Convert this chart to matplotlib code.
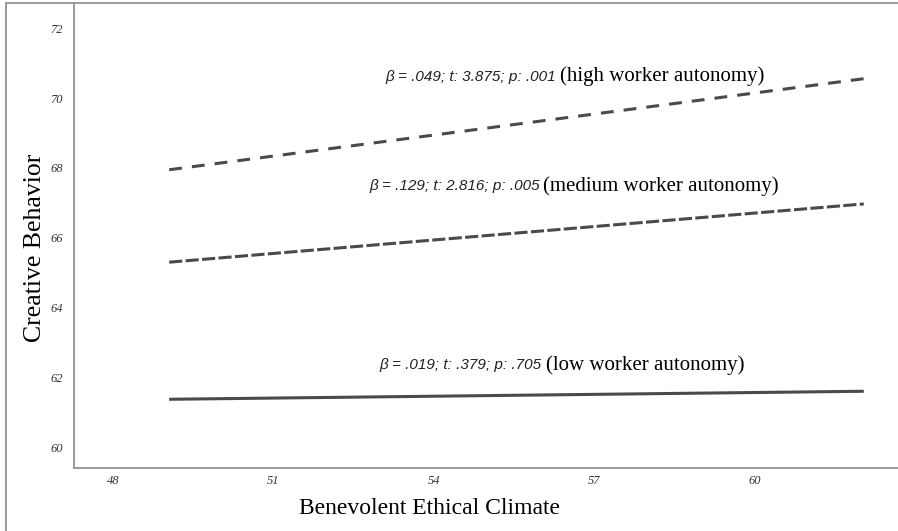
import matplotlib.pyplot as plt
from matplotlib.lines import Line2D

plt.rcParams['font.family'] = ['Liberation Serif', 'DejaVu Serif']

# simple slopes of creative behavior at three levels of worker autonomy
climate = [49.05, 62.04]
high = [67.95, 70.56]
medium = [65.30, 66.97]
low = [61.37, 61.60]

x_ticks = [48, 51, 54, 57, 60]
y_ticks = [60, 62, 64, 66, 68, 70, 72]

stats_high = "\u03b2 = .049; t: 3.875; p: .001"
stats_medium = "\u03b2 = .129; t: 2.816; p: .005"
stats_low = "\u03b2 = .019; t: .379; p: .705"

line_color = '#4a4a4a'
frame_color = '#9a9a9a'

fig = plt.figure(figsize=(8.98, 5.31), dpi=100)
ax = fig.add_axes([74 / 898, 1 - 468 / 531, 1 - 74 / 898, 465 / 531])

ax.plot(climate, high, color=line_color, lw=2.2, dashes=(4.2, 3.3))
ax.plot(climate, medium, color=line_color, lw=2.2, dashes=(4.3, 1.1))
ax.plot(climate, low, color=line_color, lw=2.2, solid_capstyle='butt')

ax.set_xlim(47.27, 62.68)
ax.set_ylim(59.40, 72.73)
ax.set_xticks(x_ticks)
ax.set_yticks(y_ticks)
ax.tick_params(length=0, labelsize=9, labelcolor='#333333')
ax.tick_params(axis='x', pad=5)
ax.tick_params(axis='y', pad=8)
for lab in ax.get_xticklabels() + ax.get_yticklabels():
    lab.set_fontstyle('italic')

for side in ['top', 'right']:
    ax.spines[side].set_visible(False)
for side in ['left', 'bottom']:
    ax.spines[side].set_color(frame_color)
    ax.spines[side].set_linewidth(1.4)

ax.set_xlabel("Benevolent Ethical Climate", fontsize=17, labelpad=8)
ax.xaxis.set_label_coords(0.432, -0.065)
ax.set_ylabel("Creative Behavior", fontsize=18.5)
ax.yaxis.set_label_coords(-0.034, 0.473)


def label(x, y, stats, name):
    ax.text(x, y, stats, fontsize=11, style='italic', ha='right', va='center',
            family=['Liberation Sans', 'DejaVu Sans'], color='#222222')
    ax.text(x + 0.07, y, name, fontsize=15, ha='left', va='center')


label(56.28, 70.62, stats_high, "(high worker autonomy)")
label(55.98, 67.48, stats_medium, "(medium worker autonomy)")
label(56.02, 62.36, stats_low, "(low worker autonomy)")

# outer frame: left edge and top edge
fig.add_artist(Line2D([6 / 898, 6 / 898], [0, 1 - 3 / 531], color=frame_color, lw=1.4,
                      transform=fig.transFigure))
fig.add_artist(Line2D([6 / 898, 1], [1 - 3 / 531, 1 - 3 / 531], color=frame_color, lw=1.4,
                      transform=fig.transFigure))

fig.savefig('out.png', dpi=100)
